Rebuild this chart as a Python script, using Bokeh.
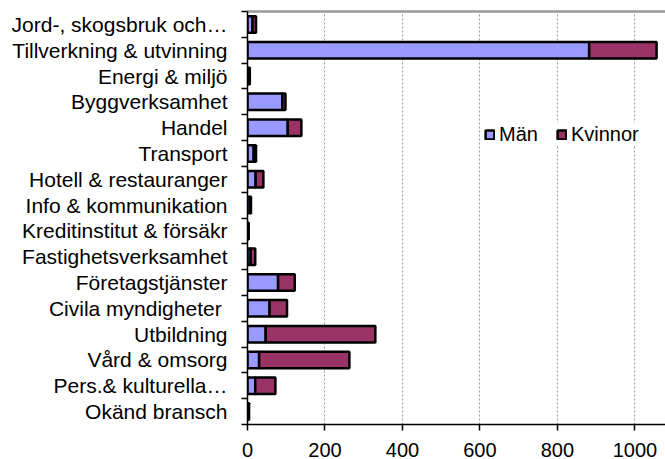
from bokeh.plotting import figure
from bokeh.models import Range1d, FixedTicker, ColumnDataSource, LinearAxis
from bokeh.embed import file_html
from bokeh.resources import INLINE

categories = [
    "Jord-, skogsbruk och…", "Tillverkning & utvinning", "Energi & miljö",
    "Byggverksamhet", "Handel", "Transport", "Hotell & restauranger",
    "Info & kommunikation", "Kreditinstitut & försäkr", "Fastighetsverksamhet",
    "Företagstjänster", "Civila myndigheter ", "Utbildning", "Vård & omsorg",
    "Pers.& kulturella…", "Okänd bransch",
]
man = [13, 882, 4, 90, 104, 16, 21, 7, 2, 8, 79, 57, 47, 30, 20, 3]
kvinnor = [9, 174, 2, 8, 35, 6, 20, 2, 1, 12, 43, 45, 283, 233, 52, 1]
x_ticks = [0, 200, 400, 600, 800, 1000]

n = len(categories)
ypos = [n - i - 0.5 for i in range(n)]
source = ColumnDataSource(dict(y=ypos, man=man, kvinnor=kvinnor, cat=categories))

FONT = "Liberation Sans"

p = figure(width=665, height=459, output_backend="svg", toolbar_location=None,
           x_range=Range1d(0, 1079), y_range=Range1d(0, n),
           min_border_left=247, min_border_top=11, min_border_right=0, min_border_bottom=35)
p.outline_line_color = None
p.background_fill_color = "white"
p.border_fill_color = "white"

r = p.hbar_stack(["man", "kvinnor"], y="y", height=0.64, source=source,
                 fill_color=["#9999FF", "#993366"], line_color="black", line_width=2.5,
                 legend_label=["Män", "Kvinnor"])

# axes
yax = p.left[0]
yax.ticker = FixedTicker(ticks=ypos, minor_ticks=list(range(0, n + 1)))
yax.major_label_overrides = {y: c for y, c in zip(ypos, categories)}
yax.major_tick_out = 0
yax.major_tick_in = 0
yax.minor_tick_out = 6
yax.minor_tick_in = 0
yax.minor_tick_line_color = "black"
yax.minor_tick_line_width = 1.5
yax.axis_line_color = "black"
yax.axis_line_width = 1.5
yax.major_label_standoff = 14
yax.major_label_text_font = FONT
yax.major_label_text_font_size = "21px"
yax.major_label_text_color = "black"

xax = p.below[0]
xax.ticker = FixedTicker(ticks=x_ticks)
xax.major_tick_out = 6
xax.major_tick_in = 0
xax.minor_tick_line_color = None
xax.major_tick_line_color = "black"
xax.major_tick_line_width = 1.5
xax.axis_line_color = "black"
xax.axis_line_width = 1.5
xax.major_label_standoff = 12
xax.major_label_text_font = FONT
xax.major_label_text_font_size = "20px"
xax.major_label_text_color = "black"

# top border line
top_ax = LinearAxis(ticker=FixedTicker(ticks=[]), axis_line_color="#999999", axis_line_width=2.5,
                    major_tick_line_color=None, minor_tick_line_color=None,
                    major_label_text_font_size="0px", major_label_standoff=0)
p.add_layout(top_ax, "above")

p.ygrid.grid_line_color = None
p.xgrid.ticker = FixedTicker(ticks=x_ticks[1:])
p.xgrid.grid_line_color = "#9a9a9a"
p.xgrid.grid_line_dash = "2 2"
p.xgrid.grid_line_width = 1

lg = p.legend[0]
lg.orientation = "horizontal"
lg.location = (237, 278)
lg.padding = 25
lg.margin = 0
lg.border_line_color = None
lg.background_fill_color = "white"
lg.background_fill_alpha = 1
lg.glyph_width = 11
lg.glyph_height = 11
lg.label_height = 20
lg.label_standoff = 4
lg.spacing = 18
lg.label_text_font = FONT
lg.label_text_font_size = "20px"
lg.label_text_color = "black"

open("out.html", "w").write(file_html(p, INLINE))
